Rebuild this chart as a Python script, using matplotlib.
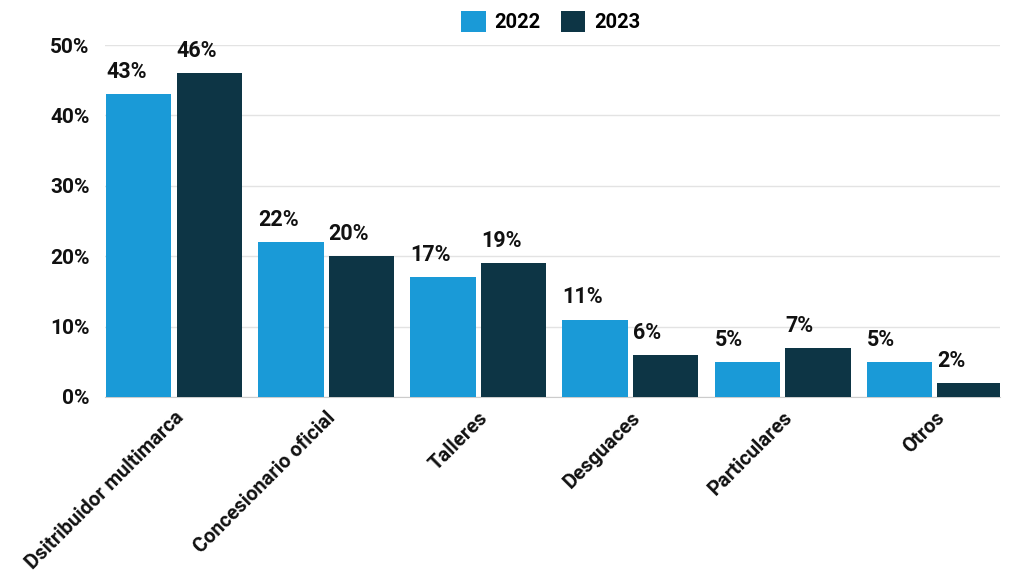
import matplotlib.pyplot as plt
import numpy as np

plt.rcParams['font.family'] = ['Roboto', 'DejaVu Sans']
plt.rcParams['font.weight'] = 'bold'

categories = ["Dsitribuidor multimarca", "Concesionario oficial", "Talleres",
              "Desguaces", "Particulares", "Otros"]
values_2022 = [43, 22, 17, 11, 5, 5]
values_2023 = [46, 20, 19, 6, 7, 2]
y_ticks = [0, 10, 20, 30, 40, 50]

color_2022 = "#1a9ad7"
color_2023 = "#0d3545"

fig = plt.figure(figsize=(10.24, 5.75), dpi=100)
ax = fig.add_axes([0.1025, 0.3096, 0.8741, 0.6121])

x = np.arange(len(categories))
width = 0.43
offset = 0.232

bars1 = ax.bar(x - offset, values_2022, width, color=color_2022, label="2022", zorder=3)
bars2 = ax.bar(x + offset, values_2023, width, color=color_2023, label="2023", zorder=3)

# Value labels above each bar, aligned to the bar's left edge
for bars in (bars1, bars2):
    for bar in bars:
        h = bar.get_height()
        ax.annotate(f"{h:g}%", (bar.get_x(), h),
                    xytext=(0, 8), textcoords="offset points",
                    ha="left", va="bottom", fontsize=15.5, fontweight="bold",
                    color="#111111")

ax.set_xlim(-0.454, 5.43)
ax.set_ylim(0, 50)
ax.set_yticks(y_ticks)
ax.set_yticklabels([f"{t}%" for t in y_ticks], fontsize=15, fontweight="bold")
ax.set_xticks(x)
ax.set_xticklabels(categories, rotation=45, ha="right", rotation_mode="anchor",
                   fontsize=14.5, fontweight="bold")

ax.yaxis.grid(True, color="#e3e3e3", linewidth=1, zorder=0)
ax.tick_params(axis="y", length=0, pad=11, colors="#111111")
ax.tick_params(axis="x", length=0, pad=8, colors="#111111")
for side in ("top", "right", "left"):
    ax.spines[side].set_visible(False)
ax.spines["bottom"].set_color("#cccccc")

fig.legend(loc="upper center", bbox_to_anchor=(0.538, 1.012), ncol=2, frameon=False,
           handlelength=1.2, handleheight=1.2, columnspacing=1.0,
           handletextpad=0.45, prop={"weight": "bold", "size": 14.5})

fig.savefig("out.png", dpi=100, facecolor="white")
